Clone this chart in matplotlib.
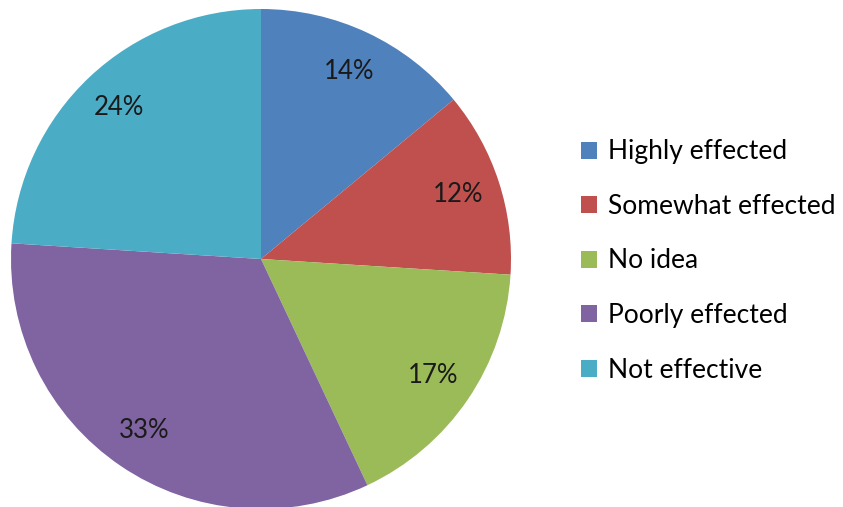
import matplotlib.pyplot as plt
from matplotlib.patches import Patch

labels = ["Highly effected", "Somewhat effected", "No idea", "Poorly effected", "Not effective"]
values = [14, 12, 17, 33, 24]
colors = ["#4F81BD", "#C0504D", "#9BBB59", "#8064A2", "#4BACC6"]

plt.rcParams['font.family'] = ['Lato', 'DejaVu Sans']

W, H = 843, 507
fig = plt.figure(figsize=(W / 100, H / 100), dpi=100)

# pie axes: centre (261, 259) px, radius 250 px
cx, cy, r = 261, 259, 250
ax = fig.add_axes([(cx - r) / W, (H - cy - r) / H, 2 * r / W, 2 * r / H])
ax.pie(values, colors=colors, startangle=90, counterclock=False,
       autopct='%d%%', pctdistance=0.83, radius=1,
       textprops={'fontsize': 18.5, 'color': '#1a1a1a'})
ax.set_xlim(-1, 1)
ax.set_ylim(-1, 1)
ax.set_aspect('equal')
ax.axis('off')

handles = [Patch(facecolor=c, edgecolor='none') for c in colors]
fig.legend(handles, labels, loc='center left', bbox_to_anchor=(557 / W, 1 - 261 / H),
           frameon=False, fontsize=19, handlelength=0.62, handleheight=0.62,
           handletextpad=0.42, labelspacing=1.12)

fig.savefig("out.png", dpi=100)
